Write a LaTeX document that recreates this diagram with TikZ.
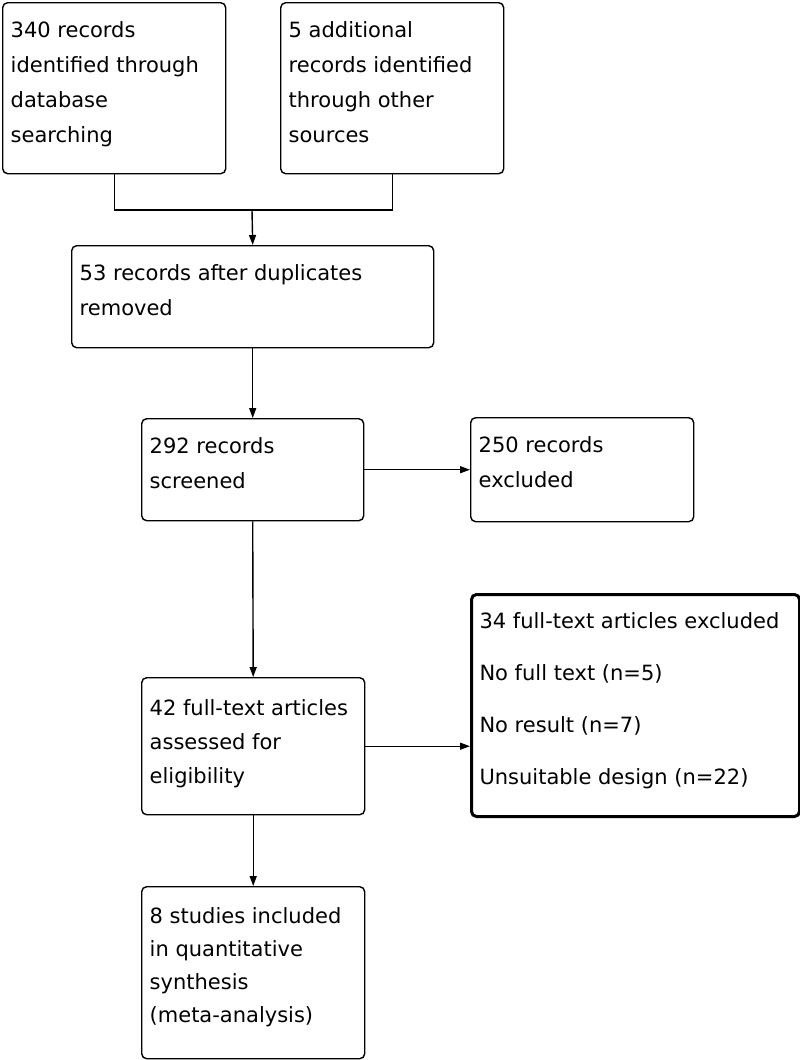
\documentclass[tikz,border=0pt]{standalone}
\usepackage{fontspec}
\setmainfont{DejaVu Sans}
\usetikzlibrary{arrows.meta}
\newcommand{\bxt}[5]{\parbox[c][#2pt][t]{#1pt}{\raggedright\fontsize{21pt}{#4pt}\selectfont\rule{0pt}{#3pt}#5}}
\begin{document}
\begin{tikzpicture}[x=1pt,y=-1pt,
  box/.style={draw, line width=1.4pt, rounded corners=5pt, inner xsep=8pt, inner ysep=0pt, anchor=north west},
  thickbox/.style={box, line width=3pt},
  conn/.style={line width=1.4pt},
  arr/.style={conn, -{Triangle[length=10pt,width=7pt]}}]
\useasboundingbox (0,0) rectangle (800,1060);
\node[box] (A) at (2,2) {\bxt{207}{171}{35}{35}{340 records\\identified through\\database\\searching}};
\node[box] (B) at (280,2) {\bxt{207}{171}{35}{35}{5 additional\\records identified\\through other\\sources}};
\node[box] (C) at (71,245) {\bxt{346}{102}{35}{35}{53 records after duplicates\\removed}};
\node[box] (D) at (141,418) {\bxt{206}{102}{35}{35}{292 records\\screened}};
\node[box] (E) at (470,417) {\bxt{207}{104}{35}{35}{250 records\\excluded}};
\node[box] (F) at (141,677) {\bxt{207}{137}{38}{34}{42 full-text articles\\assessed for\\eligibility}};
\node[thickbox] (G) at (470,593) {\bxt{312}{222}{34}{52}{34 full-text articles excluded\\No full text (n=5)\\No result (n=7)\\Unsuitable design (n=22)}};
\node[box] (H) at (141,886) {\bxt{207}{172}{37}{33}{8 studies included\\in quantitative\\synthesis\\(meta-analysis)}};
\coordinate (jn) at (252,210);
\draw[conn] (A.south) |- (jn) -| (B.south);
\draw[arr] (jn) -- (C.north);
\draw[arr] (C.south) -- (D.north);
\draw[arr] (D.east) -- (E.west);
\draw[arr] (D.south) -- (F.north);
\draw[arr] (F.east) -- (F.east -| G.west);
\draw[arr] (F.south) -- (H.north);
\end{tikzpicture}
\end{document}
